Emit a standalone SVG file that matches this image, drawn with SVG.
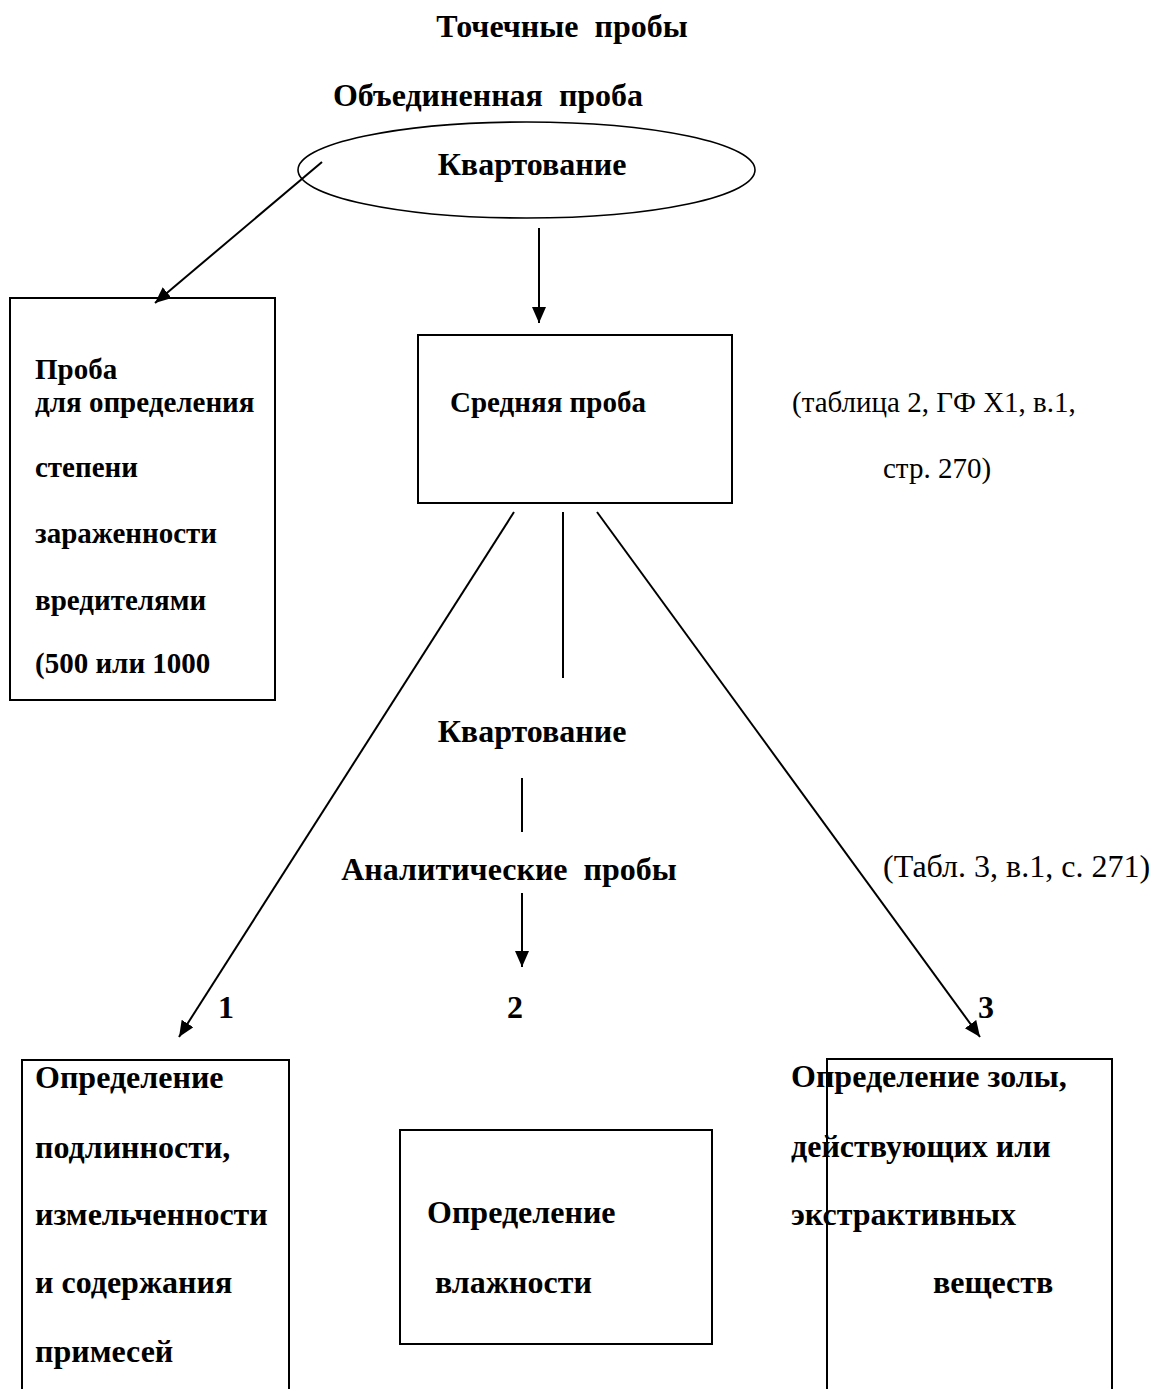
<svg xmlns="http://www.w3.org/2000/svg" width="1157" height="1389" viewBox="0 0 1157 1389">
<style>
.b{font-family:"Liberation Serif","Times New Roman",serif;font-weight:bold;font-size:32px;fill:#000}
.s{font-family:"Liberation Serif","Times New Roman",serif;font-weight:bold;font-size:29px;fill:#000}
.r{font-family:"Liberation Serif","Times New Roman",serif;font-size:29px;fill:#000}
.r2{font-family:"Liberation Serif","Times New Roman",serif;font-size:32px;fill:#000}
.box{fill:none;stroke:#000;stroke-width:2}
.ln{fill:none;stroke:#000;stroke-width:2}
.ar{fill:none;stroke:#000;stroke-width:2;marker-end:url(#ah)}
</style>
<defs>
<marker id="ah" markerUnits="userSpaceOnUse" markerWidth="18" markerHeight="16" refX="16" refY="7" orient="auto">
<path d="M0,0 L16,7 L0,14 z" fill="#000"/>
</marker>
</defs>
<rect width="1157" height="1389" fill="#fff"/>

<g id="tochechnye">
<text class="b" x="562" y="37" text-anchor="middle" xml:space="preserve">Точечные  пробы</text>
</g>
<g id="obedinennaya">
<text class="b" x="488" y="106" text-anchor="middle" xml:space="preserve">Объединенная  проба</text>
</g>
<g id="kvartovanie1">
<ellipse cx="526.5" cy="170" rx="228.5" ry="48" fill="none" stroke="#000" stroke-width="1.6"/>
<text class="b" x="532" y="175" text-anchor="middle">Квартование</text>
</g>
<g id="proba-vrediteli">
<rect class="box" x="10" y="298" width="265" height="402"/>
<text class="s" x="35" y="379">Проба</text>
<text class="s" x="35" y="412">для определения</text>
<text class="s" x="35" y="477">степени</text>
<text class="s" x="35" y="543">зараженности</text>
<text class="s" x="35" y="610">вредителями</text>
<text class="s" x="35" y="673">(500 или 1000</text>
</g>
<g id="srednyaya">
<rect class="box" x="418" y="335" width="314" height="168"/>
<text class="s" x="450" y="412">Средняя проба</text>
</g>
<g id="note1">
<text class="r" x="792" y="412">(таблица 2, ГФ Х1, в.1,</text>
<text class="r" x="883" y="478">стр. 270)</text>
</g>
<g id="kvartovanie2">
<text class="b" x="532" y="742" text-anchor="middle">Квартование</text>
</g>
<g id="analiticheskie">
<text class="b" x="509" y="880" text-anchor="middle" xml:space="preserve">Аналитические  пробы</text>
</g>
<g id="note2">
<text class="r2" x="883" y="877">(Табл. 3, в.1, с. 271)</text>
</g>
<g id="labels">
<text class="b" x="218" y="1018">1</text>
<text class="b" x="507" y="1018">2</text>
<text class="b" x="978" y="1018">3</text>
</g>
<g id="podlinnost">
<path class="box" d="M22,1389 V1060 H289 V1389"/>
<text class="b" x="35" y="1088">Определение</text>
<text class="b" x="35" y="1158">подлинности,</text>
<text class="b" x="35" y="1225">измельченности</text>
<text class="b" x="35" y="1293">и содержания</text>
<text class="b" x="35" y="1362">примесей</text>
</g>
<g id="vlazhnost">
<rect class="box" x="400" y="1130" width="312" height="214"/>
<text class="b" x="427" y="1223">Определение</text>
<text class="b" x="435" y="1293">влажности</text>
</g>
<g id="zola">
<path class="box" d="M827,1389 V1059 H1112 V1389"/>
<text class="b" x="791" y="1087">Определение золы,</text>
<text class="b" x="791" y="1157">действующих или</text>
<text class="b" x="791" y="1225">экстрактивных</text>
<text class="b" x="933" y="1293">веществ</text>
</g>

<g id="connectors">
<line class="ar" x1="322" y1="162" x2="155" y2="303"/>
<line class="ar" x1="539" y1="228" x2="539" y2="323"/>
<line class="ar" x1="514" y1="512" x2="179" y2="1037"/>
<line class="ln" x1="563" y1="512" x2="563" y2="678"/>
<line class="ar" x1="597" y1="512" x2="980" y2="1037"/>
<line class="ln" x1="522" y1="778" x2="522" y2="832"/>
<line class="ar" x1="522" y1="893" x2="522" y2="967"/>
</g>
</svg>
